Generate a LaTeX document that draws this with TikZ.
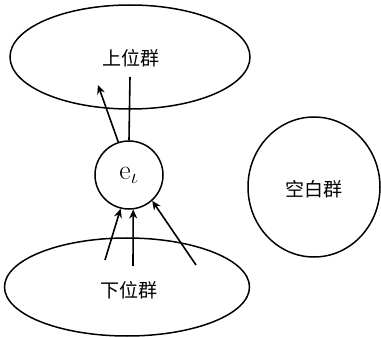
\documentclass[tikz,border=0pt]{standalone}
\usepackage{fontspec}
\newfontfamily\cjk{Noto Sans CJK SC}
\usetikzlibrary{shapes.geometric,arrows.meta}
\begin{document}
\begin{tikzpicture}[x=1pt,y=-1pt,
  grp/.style={draw,ellipse,line width=1.5pt,inner sep=0pt},
  lbl/.style={font=\cjk\fontsize{19}{19}\selectfont},
  conn/.style={line width=1.6pt},
  arr/.style={conn,-{Stealth[length=9pt,width=8pt]}}]
\useasboundingbox (0,0) rectangle (381,337);
\node[grp,minimum width=240pt,minimum height=104pt] (upper) at (130,57) {};
\node[lbl] (ul) at (131,58) {上位群};
\node[grp,minimum width=245pt,minimum height=98pt] (lower) at (127,287) {};
\node[lbl] (ll) at (129,290) {下位群};
\node[grp,minimum width=132pt,minimum height=140pt] (blank) at (314,187) {};
\node[lbl] (bl) at (314,189) {空白群};
\node[draw,circle,line width=1.5pt,minimum size=68pt,inner sep=0pt,font=\fontsize{28}{28}\selectfont] (ei) at (129,175) {$\mathrm{e}_\iota$};
\coordinate (uA) at (98,85);
\coordinate (uB) at (130,77);
\coordinate (lA) at (105,260);
\coordinate (lB) at (133,266);
\coordinate (lC) at (196,265);
\draw[arr] (ei.108) -- (uA);
\draw[conn] (ei.north) -- (uB);
\draw[arr] (lA) -- (ei.-104);
\draw[arr] (lB) -- (ei.-83);
\draw[arr] (lC) -- (ei.-48);
\end{tikzpicture}
\end{document}
